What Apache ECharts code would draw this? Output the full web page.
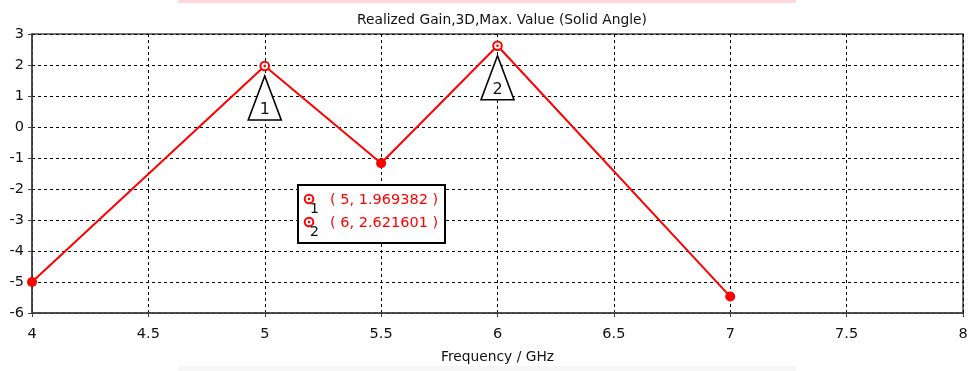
<!DOCTYPE html>
<html>
<head>
<meta charset="utf-8">
<script src="https://cdn.jsdelivr.net/npm/echarts@6/dist/echarts.min.js"></script>
<style>
  html, body { margin: 0; padding: 0; background: #fff; }
  #chart { width: 971px; height: 371px; }
</style>
</head>
<body>
<div id="chart"></div>
<script>
// Realized gain curve (GHz, dB)
const frequency = [4, 5, 5.5, 6, 7];
const gain = [-5.0, 1.969382, -1.17, 2.621601, -5.47];

// Marker annotations
const markerIds = ['1', '2'];
const markerFreq = [5, 6];
const markerGain = [1.969382, 2.621601];

const xTicks = [4, 4.5, 5, 5.5, 6, 6.5, 7, 7.5, 8];
const yTicks = [-6, -5, -4, -3, -2, -1, 0, 1, 2, 3];

const FONT = 'DejaVu Sans';
const RED = '#ff0000';

const chart = echarts.init(document.getElementById('chart'), null, { renderer: 'canvas' });

const curve = frequency.map((f, i) => [f, gain[i]]);
const markerPts = markerFreq.map((f, i) => [f, markerGain[i], markerIds[i]]);
const plainPts = curve.filter(p => !markerFreq.includes(p[0]));

// ring-with-dot icon used for markers
function ringIcon(cx, cy) {
  return [
    { type: 'circle', shape: { cx, cy, r: 4.3 }, style: { fill: '#fff', stroke: RED, lineWidth: 2 }, z: 10 },
    { type: 'circle', shape: { cx, cy, r: 1.3 }, style: { fill: RED }, z: 11 }
  ];
}

// marker readout box
const boxX = 298, boxY = 185, boxW = 147, boxH = 58;
const boxChildren = [
  { type: 'rect', shape: { x: boxX, y: boxY, width: boxW, height: boxH }, style: { fill: '#fff', stroke: '#000', lineWidth: 2 }, z: 9 }
];
markerIds.forEach((id, i) => {
  const cy = boxY + 14 + i * 23;
  boxChildren.push(...ringIcon(309, cy));
  boxChildren.push({ type: 'text', x: 310, y: cy + 10, style: { text: id, font: '14px ' + FONT, fill: '#111', align: 'left', verticalAlign: 'middle' }, z: 11 });
  boxChildren.push({ type: 'text', x: 330, y: cy + 1, style: { text: '( ' + markerFreq[i] + ', ' + markerGain[i].toFixed(6) + ' )', font: '14.5px ' + FONT, fill: RED, align: 'left', verticalAlign: 'middle' }, z: 11 });
});

const option = {
  animation: false,
  backgroundColor: '#fff',
  title: {
    text: 'Realized Gain,3D,Max. Value (Solid Angle)',
    left: 497, top: 8, textAlign: 'center',
    textStyle: { fontFamily: FONT, fontSize: 13.8, fontWeight: 'normal', color: '#111' }
  },
  grid: {
    left: 32, right: 8, top: 34, bottom: 58,
    show: true, borderColor: '#444', borderWidth: 1.5, backgroundColor: 'transparent'
  },
  xAxis: {
    type: 'value', min: 4, max: 8, interval: 0.5,
    name: 'Frequency / GHz', nameLocation: 'middle', nameGap: 37,
    nameTextStyle: { fontFamily: FONT, fontSize: 13.8, color: '#111' },
    axisLine: { show: true, onZero: false, lineStyle: { color: '#444', width: 1.5 } },
    axisTick: { show: true, length: 4, lineStyle: { color: '#444' } },
    axisLabel: { fontFamily: FONT, fontSize: 14.5, color: '#111', margin: 14,
      formatter: v => xTicks.includes(v) ? String(v) : '' },
    splitLine: { show: true, lineStyle: { color: '#000', type: [3, 3], width: 1 } }
  },
  yAxis: {
    type: 'value', min: -6, max: 3, interval: 1,
    axisLine: { show: true, onZero: false, lineStyle: { color: '#444', width: 1.5 } },
    axisTick: { show: true, length: 4, lineStyle: { color: '#444' } },
    axisLabel: { fontFamily: FONT, fontSize: 14.5, color: '#111', margin: 8,
      formatter: v => yTicks.includes(v) ? String(v) : '' },
    splitLine: { show: true, lineStyle: { color: '#000', type: [3, 3], width: 1 } }
  },
  series: [
    {
      type: 'line', data: curve, showSymbol: false, symbol: 'none',
      lineStyle: { color: RED, width: 2 }, z: 3
    },
    {
      type: 'scatter', data: plainPts, symbol: 'circle', symbolSize: 10,
      itemStyle: { color: RED, opacity: 1 }, z: 4
    },
    {
      // triangle flags below each marker
      type: 'custom', data: markerPts, z: 5,
      renderItem: (params, api) => {
        const p = api.coord([api.value(0), api.value(1)]);
        const top = p[1] + 10, bot = p[1] + 54, hw = 16.5;
        return {
          type: 'group',
          children: [
            { type: 'polygon', shape: { points: [[p[0], top], [p[0] + hw, bot], [p[0] - hw, bot]] },
              style: { fill: '#fff', stroke: '#000', lineWidth: 1.6 } },
            { type: 'text', x: p[0], y: bot - 10, style: { text: markerPts[params.dataIndex][2], font: '16px ' + FONT, fill: '#111', align: 'center', verticalAlign: 'middle' } }
          ]
        };
      }
    },
    {
      // ring markers on the curve
      type: 'custom', data: markerPts, z: 6,
      renderItem: (params, api) => {
        const p = api.coord([api.value(0), api.value(1)]);
        return { type: 'group', children: ringIcon(p[0], p[1]) };
      }
    }
  ],
  graphic: [
    { type: 'rect', shape: { x: 178, y: 0, width: 618, height: 3 }, style: { fill: '#ffd6da' }, silent: true },
    { type: 'rect', shape: { x: 178, y: 366, width: 618, height: 5 }, style: { fill: '#f6f6f6' }, silent: true },
    { type: 'group', children: boxChildren }
  ]
};

chart.setOption(option);
</script>
</body>
</html>
